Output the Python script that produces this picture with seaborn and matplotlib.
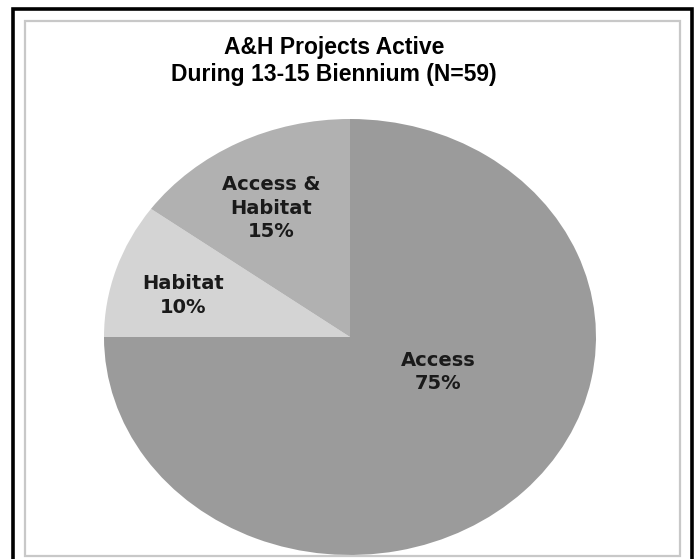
import matplotlib
matplotlib.use("Agg")
import matplotlib.pyplot as plt
from matplotlib.patches import Rectangle
import seaborn as sns

# ---- data ----
categories = ["Access", "Habitat", "Access &\nHabitat"]
percent = [75, 10, 15]
title_lines = ["A&H Projects Active", "During 13-15 Biennium (N=59)"]

# ---- style ----
sns.set_theme(style="white")
plt.rcParams["font.family"] = ["Liberation Sans", "DejaVu Sans"]
colors = ["#9b9b9b", "#d4d4d4", "#b1b1b1"]
label_pos = [(0.36, -0.16), (-0.68, 0.19), (-0.32, 0.59)]

W, H = 694, 559
fig = plt.figure(figsize=(W / 100, H / 100), dpi=100)
fig.patch.set_facecolor("white")

# frames
fig.patches.append(Rectangle((12.5 / W, -0.05), 679.5 / W, (H - 8.5) / H + 0.05,
                             transform=fig.transFigure, fill=False,
                             edgecolor="black", linewidth=2.6))
fig.patches.append(Rectangle((24.5 / W, 3.0 / H), 655 / W, (H - 20.5 - 3.0) / H,
                             transform=fig.transFigure, fill=False,
                             edgecolor="#c8c8c8", linewidth=1.6))

# pie axes (elliptical pie as in reference)
left, right, top, bottom = 104, 596, 119, 555
ax = fig.add_axes([left / W, (H - bottom) / H, (right - left) / W, (bottom - top) / H])
ax.pie(percent, colors=colors, startangle=90, counterclock=False,
       wedgeprops=dict(linewidth=0), radius=1.0)
ax.set_aspect("auto")
ax.set_xlim(-1, 1)
ax.set_ylim(-1, 1)
ax.axis("off")

for cat, p, (x, y) in zip(categories, percent, label_pos):
    ax.text(x, y, f"{cat}\n{p}%", ha="center", va="center",
            fontsize=14, fontweight="bold", color="#1a1a1a",
            family=["DejaVu Sans"], linespacing=1.3)

fig.text(334 / W, 1 - 61 / H, "\n".join(title_lines), ha="center", va="center",
         fontsize=16.5, fontweight="bold", color="black", linespacing=1.2)

fig.savefig("out.png", dpi=100)
